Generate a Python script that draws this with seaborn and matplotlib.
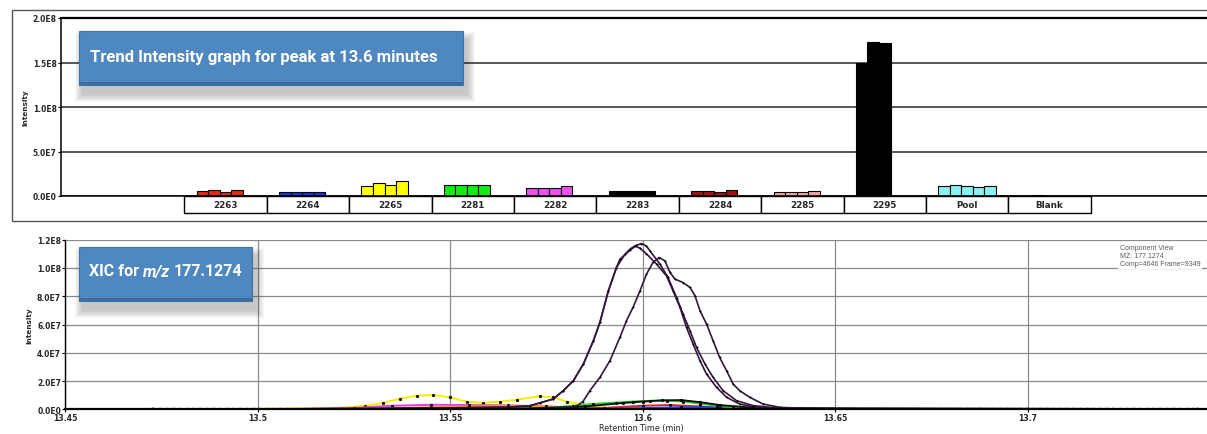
import numpy as np
import pandas as pd
import matplotlib
matplotlib.use("Agg")
import matplotlib.pyplot as plt
import matplotlib.transforms as mtransforms
from matplotlib.patches import Rectangle
from matplotlib.text import Annotation
from matplotlib import font_manager
import seaborn as sns

# ------------------------------------------------------------------ data
groups = ['2263', '2264', '2265', '2281', '2282', '2283', '2284', '2285', '2295', 'Pool', 'Blank']
group_colors = ['#e8280e', '#1636e0', '#ffff00', '#12ec12', '#f050f0', '#000000',
                '#a8100c', '#f4a2a0', '#000000', '#88f2f2', '#9a9a9a']
rep_2263 = [5.2e6, 6.5e6, 4.6e6, 7.0e6]
rep_2264 = [4.8e6, 4.8e6, 4.8e6, 4.4e6]
rep_2265 = [11.5e6, 14.5e6, 12.5e6, 16.5e6]
rep_2281 = [12.0e6, 12.0e6, 12.0e6, 12.0e6]
rep_2282 = [9.4e6, 9.4e6, 9.4e6, 11.0e6]
rep_2283 = [6.0e6, 6.0e6, 6.0e6, 6.0e6]
rep_2284 = [5.5e6, 6.0e6, 4.2e6, 7.0e6]
rep_2285 = [4.8e6, 4.8e6, 4.8e6, 5.6e6]
rep_2295 = [1.50e8, 1.73e8, 1.715e8]
rep_pool = [11.0e6, 12.0e6, 11.2e6, 10.2e6, 10.8e6]
rep_blank = [5e5, 6e5]
bar_reps = [rep_2263, rep_2264, rep_2265, rep_2281, rep_2282, rep_2283,
            rep_2284, rep_2285, rep_2295, rep_pool, rep_blank]
rep_levels = ['r1', 'r2', 'r3', 'r4', 'r5']

top_yticks = [0, 5e7, 1e8, 1.5e8, 2e8]
top_yticklabels = ['0.0E0', '5.0E7', '1.0E8', '1.5E8', '2.0E8']

# XIC traces (retention time in min, intensity)
xic_A_time = [13.4725, 13.50, 13.53, 13.55, 13.565, 13.5707, 13.5733, 13.5768, 13.5794, 13.5820,
              13.5846, 13.5872, 13.5889, 13.5911, 13.5932, 13.5954, 13.5967, 13.5980, 13.5993,
              13.6010, 13.6036, 13.6062, 13.6079, 13.6097, 13.6114, 13.6131, 13.6149, 13.6166,
              13.6192, 13.6218, 13.6252, 13.6287, 13.6339, 13.6408, 13.66, 13.744]
xic_A_int = [2e5, 2e5, 5e5, 1.0e6, 1.5e6, 2.5e6, 4.5e6, 7.3e6, 1.32e7, 2.02e7,
             3.2e7, 4.85e7, 6.15e7, 8.38e7, 1.003e8, 1.097e8, 1.133e8, 1.156e8, 1.14e8,
             1.10e8, 1.027e8, 9.44e7, 8.38e7, 7.21e7, 5.79e7, 4.62e7, 3.44e7, 2.49e7,
             1.55e7, 8.5e6, 3.7e6, 1.8e6, 8e5, 3e5, 1e5, 1e5]
xic_B_time = [13.4725, 13.50, 13.53, 13.55, 13.565, 13.5707, 13.5733, 13.5768, 13.5794, 13.5820,
              13.5846, 13.5872, 13.5889, 13.5911, 13.5932, 13.5941, 13.5967, 13.5984, 13.5997,
              13.6010, 13.6019, 13.6045, 13.6066, 13.6088, 13.6105, 13.6123, 13.6140, 13.6162,
              13.6183, 13.6209, 13.6244, 13.6287, 13.6339, 13.6408, 13.66, 13.744]
xic_B_int = [2e5, 2e5, 5e5, 1.0e6, 1.5e6, 2.5e6, 4.5e6, 7.3e6, 1.32e7, 2.02e7,
             3.2e7, 4.85e7, 6.15e7, 8.38e7, 1.003e8, 1.062e8, 1.125e8, 1.160e8, 1.173e8,
             1.155e8, 1.121e8, 1.027e8, 9.33e7, 7.91e7, 6.74e7, 5.56e7, 4.38e7, 3.2e7,
             2.26e7, 1.32e7, 6.1e6, 2.6e6, 1.2e6, 4e5, 1e5, 1e5]
xic_C_time = [13.4725, 13.52, 13.56, 13.575, 13.5800, 13.5830, 13.5845, 13.5863, 13.5889, 13.5915,
              13.5941, 13.5958, 13.5975, 13.5993, 13.6010, 13.6027, 13.6043, 13.6058, 13.6071,
              13.6084, 13.6105, 13.6123, 13.6136, 13.6149, 13.6166, 13.6183, 13.6200, 13.6218,
              13.6235, 13.6252, 13.6278, 13.6313, 13.6356, 13.6408, 13.66, 13.744]
xic_C_int = [1e5, 2e5, 4e5, 6e5, 1.0e6, 2.5e6, 5.5e6, 1.32e7, 2.26e7, 3.44e7,
             5.09e7, 6.26e7, 7.21e7, 8.38e7, 9.56e7, 1.039e8, 1.074e8, 1.050e8, 9.68e7,
             9.21e7, 8.97e7, 8.62e7, 8.03e7, 6.97e7, 6.03e7, 4.85e7, 3.67e7, 2.73e7,
             1.79e7, 1.32e7, 8.5e6, 3.7e6, 1.4e6, 8e5, 2e5, 1e5]
xic_yellow_time = [13.4725, 13.50, 13.515, 13.522, 13.528, 13.5326, 13.537, 13.5413, 13.5455, 13.55,
                   13.5543, 13.5585, 13.563, 13.5673, 13.5733, 13.5767, 13.5803, 13.5845, 13.59,
                   13.60, 13.62, 13.744]
xic_yellow_int = [1e5, 2e5, 5e5, 1.2e6, 2.5e6, 4.5e6, 7.5e6, 9.6e6, 1.01e7, 8.5e6,
                  5.4e6, 4.5e6, 5.4e6, 6.8e6, 9.3e6, 8.5e6, 5.4e6, 3.0e6, 1.2e6,
                  5e5, 2e5, 1e5]
xic_magenta_time = [13.4725, 13.51, 13.525, 13.535, 13.545, 13.555, 13.565, 13.575, 13.585, 13.60, 13.744]
xic_magenta_int = [1e5, 2e5, 1.0e6, 2.5e6, 3.2e6, 3.0e6, 2.8e6, 2.0e6, 1.0e6, 3e5, 1e5]
xic_orange_time = [13.4725, 13.53, 13.545, 13.555, 13.565, 13.575, 13.585, 13.595, 13.744]
xic_orange_int = [1e5, 5e5, 1.5e6, 2.0e6, 2.4e6, 2.0e6, 1.0e6, 3e5, 1e5]
xic_green_time = [13.4725, 13.56, 13.575, 13.582, 13.587, 13.5932, 13.5975, 13.6019, 13.6062,
                  13.6105, 13.6149, 13.6192, 13.6235, 13.628, 13.64, 13.744]
xic_green_int = [1e5, 3e5, 1.0e6, 2.5e6, 3.8e6, 4.8e6, 5.5e6, 6.0e6, 6.2e6,
                 5.5e6, 4.0e6, 2.5e6, 1.3e6, 5e5, 1e5, 1e5]
xic_red_time = [13.4725, 13.58, 13.59, 13.60, 13.607, 13.615, 13.625, 13.744]
xic_red_int = [1e5, 3e5, 1.0e6, 2.5e6, 3.0e6, 2.0e6, 5e5, 1e5]
xic_blue_time = [13.4725, 13.595, 13.61, 13.62, 13.63, 13.744]
xic_blue_int = [1e5, 5e5, 1.5e6, 1.2e6, 3e5, 1e5]
xic_black_time = [13.4725, 13.57, 13.585, 13.595, 13.60, 13.605, 13.61, 13.615, 13.62, 13.63, 13.744]
xic_black_int = [1e5, 5e5, 2.0e6, 4.5e6, 5.5e6, 6.3e6, 6.5e6, 5.0e6, 3.0e6, 8e5, 1e5]
xic_base_time = [13.4725, 13.744]
xic_base_int = [0.0, 0.0]

minor_series = [('yellow', xic_yellow_time, xic_yellow_int, '#f2ee00'),
                ('magenta', xic_magenta_time, xic_magenta_int, '#e23ee2'),
                ('orange', xic_orange_time, xic_orange_int, '#ff9a00'),
                ('red', xic_red_time, xic_red_int, '#dd2020'),
                ('blue', xic_blue_time, xic_blue_int, '#2244ee'),
                ('green', xic_green_time, xic_green_int, '#22dd22'),
                ('black', xic_black_time, xic_black_int, '#111111')]
major_series = [('2295_a', xic_A_time, xic_A_int, '#34163c'),
                ('2295_b', xic_B_time, xic_B_int, '#34163c'),
                ('2295_c', xic_C_time, xic_C_int, '#34163c')]

bot_xticks = [13.45, 13.5, 13.55, 13.6, 13.65, 13.7]
bot_xticklabels = ['13.45', '13.5', '13.55', '13.6', '13.65', '13.7']
bot_yticks = [0, 2e7, 4e7, 6e7, 8e7, 1e8, 1.2e8]
bot_yticklabels = ['0.0E0', '2.0E7', '4.0E7', '6.0E7', '8.0E7', '1.0E8', '1.2E8']

# ------------------------------------------------------------------ style
sns.set_theme(style="ticks")
plt.rcParams['font.family'] = ['DejaVu Sans']
installed = {f.name for f in font_manager.fontManager.ttflist}
narrow = 'Liberation Sans Narrow' if 'Liberation Sans Narrow' in installed else 'Roboto'
title_family = [narrow, 'DejaVu Sans']

W, H = 1207, 435
fig = plt.figure(figsize=(W / 100, H / 100), dpi=100)
fig.patch.set_facecolor('white')


def fx(px):
    return px / W


def fy(py):
    return 1 - py / H


# outer frame of top panel
fig.add_artist(Rectangle((fx(11.5), fy(222)), fx(1215) - fx(11.5), fy(11) - fy(222),
                         transform=fig.transFigure, fill=False, ec='#555555', lw=1.0))

ax1 = fig.add_axes([fx(61), fy(197), fx(1207) - fx(61), fy(19) - fy(197)])
ax2 = fig.add_axes([fx(65.2), fy(410.3), fx(1207) - fx(65.2), fy(240.7) - fy(410.3)])

# ------------------------------------------------------------------ top: bars
rows = []
for g, vals in zip(groups, bar_reps):
    for k, v in enumerate(vals):
        rows.append((g, rep_levels[k], v))
bar_df = pd.DataFrame(rows, columns=['group', 'rep', 'intensity'])

sns.barplot(data=bar_df, x='group', y='intensity', hue='rep', order=groups,
            hue_order=rep_levels, palette=['#000000'] * 5, dodge=True, width=0.70,
            errorbar=None, edgecolor='black', linewidth=0.8, legend=False, ax=ax1)
for p in ax1.patches:
    idx = int(round(p.get_x() + p.get_width() / 2))
    if 0 <= idx < len(groups):
        p.set_facecolor(group_colors[idx])
        p.set_edgecolor('black')

ax1.set_xlim(-1.996, 11.91)
ax1.set_ylim(0, 2e8)
ax1.set_xticks([])
ax1.set_xlabel('')
ax1.set_yticks(top_yticks)
ax1.set_yticklabels(top_yticklabels, fontsize=5.5, fontweight='bold')
ax1.tick_params(axis='y', length=2, width=0.8, pad=1, color='black')
ax1.yaxis.grid(True, color='#2a2a2a', lw=1.1)
ax1.set_axisbelow(True)
for s in ['left', 'bottom']:
    ax1.spines[s].set_color('black')
    ax1.spines[s].set_linewidth(1.1)
ax1.spines['top'].set_color('black')
ax1.spines['top'].set_linewidth(1.6)
ax1.spines['right'].set_visible(False)
ax1.set_ylabel('Intensity', fontsize=5.2, fontweight='bold')
ax1.yaxis.set_label_coords(-0.0282, 0.5)

# category boxes beneath the bars
trans1 = mtransforms.blended_transform_factory(ax1.transData, ax1.transAxes)
box_h = 17 / 178
for i, g in enumerate(groups):
    ax1.add_patch(Rectangle((i - 0.5, -box_h), 1, box_h, transform=trans1, fc='white',
                            ec='black', lw=1.0, clip_on=False, zorder=3))
    ax1.text(i, -box_h / 2, g, transform=trans1, ha='center', va='center',
             fontsize=6.3, fontweight='bold', clip_on=False, zorder=4)

# ------------------------------------------------------------------ bottom: XIC
minor_df = pd.concat([pd.DataFrame({'series': name, 'time': t, 'intensity': v})
                      for name, t, v, c in minor_series], ignore_index=True)
major_df = pd.concat([pd.DataFrame({'series': name, 'time': t, 'intensity': v})
                      for name, t, v, c in major_series], ignore_index=True)
base_df = pd.DataFrame({'time': xic_base_time, 'intensity': xic_base_int})
sns.lineplot(data=base_df, x='time', y='intensity', color='black', lw=1.6,
             linestyle=(0, (1.5, 1.5)), ax=ax2)
sns.lineplot(data=minor_df, x='time', y='intensity', hue='series',
             hue_order=[s[0] for s in minor_series],
             palette={s[0]: s[3] for s in minor_series}, estimator=None, legend=False,
             lw=1.4, marker='o', markersize=2.0, markerfacecolor='black',
             markeredgecolor='black', markeredgewidth=0.3, ax=ax2)
sns.lineplot(data=major_df, x='time', y='intensity', hue='series',
             hue_order=[s[0] for s in major_series],
             palette={s[0]: s[3] for s in major_series}, estimator=None, legend=False,
             lw=1.2, marker='o', markersize=1.1, markerfacecolor='black',
             markeredgecolor='black', markeredgewidth=0.2, ax=ax2)

ax2.set_xlim(13.45, 13.7466)
ax2.set_ylim(0, 1.2e8)
ax2.set_xticks(bot_xticks)
ax2.set_xticklabels(bot_xticklabels, fontsize=5.6, fontweight='bold')
ax2.set_yticks(bot_yticks)
ax2.set_yticklabels(bot_yticklabels, fontsize=5.5, fontweight='bold')
ax2.tick_params(axis='both', length=2, width=0.8, pad=1, color='black')
ax2.grid(True, color='#8a8a8a', lw=0.9)
ax2.set_axisbelow(True)
ax2.spines['left'].set_color('black')
ax2.spines['left'].set_linewidth(1.0)
ax2.spines['bottom'].set_color('black')
ax2.spines['bottom'].set_linewidth(1.6)
ax2.spines['top'].set_visible(False)
ax2.spines['right'].set_visible(False)
ax2.set_xlabel('Retention Time (min)', fontsize=5.8)
ax2.xaxis.set_label_coords(0.505, -0.083)
ax2.set_ylabel('Intensity', fontsize=5.2, fontweight='bold')
ax2.yaxis.set_label_coords(-0.029, 0.5)

ax2.text(0.9238, 0.975, 'Component View\nMZ: 177.1274\nComp=4646 Frame=9349',
         transform=ax2.transAxes, ha='left', va='top', fontsize=5.0, color='#5a5a5a',
         family=['Liberation Sans', 'DejaVu Sans'], linespacing=1.25,
         bbox=dict(boxstyle='square,pad=0.25', fc='white', ec='none'), zorder=5)


# ------------------------------------------------------------------ title boxes
def title_box(x0, y0, x1, y1):
    for s in range(1, 9):
        fig.add_artist(Rectangle((fx(x0 + 4 - s), fy(y1 + 9 + s)), fx(x1 - x0 + 2 * s),
                                 fy(y0) - fy(y1 + 2 * s), transform=fig.transFigure,
                                 fc='#303030', ec='none', alpha=0.035, zorder=9))
    fig.add_artist(Rectangle((fx(x0), fy(y1)), fx(x1 - x0), fy(y0) - fy(y1),
                             transform=fig.transFigure, fc='#4f88c0', ec='#3f74a8',
                             lw=0.8, zorder=10))
    fig.add_artist(Rectangle((fx(x0), fy(y1)), fx(x1 - x0), fy(y1 - 3) - fy(y1),
                             transform=fig.transFigure, fc='#3c6c9c', ec='none', zorder=10))


title_box(79, 32, 463, 86)
fig.text(fx(90), fy(61.7), 'Trend Intensity graph for peak at 13.6 minutes', color='white',
         fontsize=12.0, fontweight='bold', family=title_family, ha='left', va='baseline',
         zorder=11)

title_box(79, 248, 252, 302)
t1 = fig.text(fx(89), fy(279.5), 'XIC for', color='white', fontsize=11.5,
              fontweight='bold', family=title_family, ha='left', va='bottom', zorder=11)
t2 = Annotation('m/z', xy=(1, 0), xycoords=t1, xytext=(2.6, 0), textcoords='offset points',
                color='white', fontsize=11.5, fontweight='bold', fontstyle='italic',
                family=title_family, ha='left', va='bottom', zorder=11,
                annotation_clip=False)
fig.add_artist(t2)
t3 = Annotation('177.1274', xy=(1, 0), xycoords=t2, xytext=(2.6, 0),
                textcoords='offset points', color='white', fontsize=11.5,
                fontweight='bold', family=title_family, ha='left', va='bottom',
                zorder=11, annotation_clip=False)
fig.add_artist(t3)

fig.savefig('out.png', dpi=100, facecolor='white')
